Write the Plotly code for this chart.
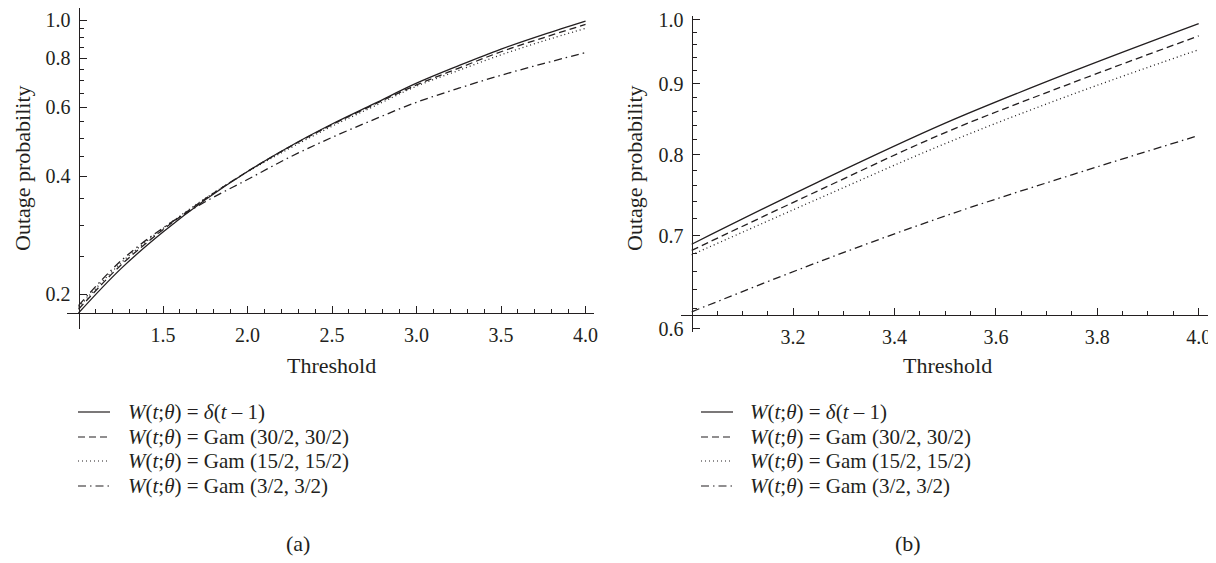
import math
import plotly.graph_objects as go

# ---------------- data ----------------
threshold = [1.0, 1.25, 1.5, 1.75, 2.0, 2.25, 2.5, 2.75, 3.0, 3.25, 3.5, 3.75, 4.0]
p_delta = [0.179, 0.232, 0.288, 0.348, 0.411, 0.476, 0.543, 0.612, 0.690, 0.765, 0.843, 0.918, 0.994]
p_gam30 = [0.183, 0.237, 0.292, 0.350, 0.411, 0.475, 0.541, 0.609, 0.683, 0.754, 0.830, 0.901, 0.974]
p_gam15 = [0.185, 0.240, 0.294, 0.351, 0.410, 0.471, 0.536, 0.603, 0.678, 0.744, 0.815, 0.884, 0.952]
p_gam3 = [0.187, 0.243, 0.295, 0.344, 0.392, 0.447, 0.502, 0.558, 0.617, 0.670, 0.723, 0.774, 0.826]

legend_labels = [
    "<i>W</i>(<i>t</i>;<i>θ</i>) = <i>δ</i>(<i>t</i> – 1)",
    "<i>W</i>(<i>t</i>;<i>θ</i>) = Gam (30/2, 30/2)",
    "<i>W</i>(<i>t</i>;<i>θ</i>) = Gam (15/2, 15/2)",
    "<i>W</i>(<i>t</i>;<i>θ</i>) = Gam (3/2, 3/2)",
]
left_xticks = [1.5, 2.0, 2.5, 3.0, 3.5, 4.0]
left_yticks = [0.2, 0.4, 0.6, 0.8, 1.0]
right_xticks = [3.2, 3.4, 3.6, 3.8, 4.0]
right_yticks = [0.6, 0.7, 0.8, 0.9, 1.0]
left_xminor = [1.1, 1.2, 1.3, 1.4, 1.6, 1.7, 1.8, 1.9, 2.1, 2.2, 2.3, 2.4, 2.6, 2.7, 2.8, 2.9,
               3.1, 3.2, 3.3, 3.4, 3.6, 3.7, 3.8, 3.9]
left_yminor = [0.25, 0.3, 0.35, 0.45, 0.5, 0.55, 0.65, 0.7, 0.75, 0.85, 0.9, 0.95]
right_xminor = [3.05, 3.1, 3.15, 3.25, 3.3, 3.35, 3.45, 3.5, 3.55, 3.65, 3.7, 3.75, 3.85, 3.9, 3.95]
right_yminor = [0.62, 0.64, 0.66, 0.68, 0.72, 0.74, 0.76, 0.78, 0.82, 0.84, 0.86, 0.88,
                0.92, 0.94, 0.96, 0.98]

# ---------------- styling ----------------
W, H = 1216, 563
OFF = 8  # page body margin offset
INK = "#231f20"
FONT = "Liberation Serif"
FS_TICK = 20
FS_TEXT = 22
FS_LEG = 21
dashes = ["solid", "7px,4px", "1px,3px", "8px,4px,1.5px,4px"]
series = [p_delta, p_gam30, p_gam15, p_gam3]


def px(x):
    return min(1.0, max(0.0, (x - OFF) / W))


def py(y):
    return min(1.0, max(0.0, (H - (y - OFF)) / H))


fig = go.Figure()
for vals, dash in zip(series, dashes):
    fig.add_trace(go.Scatter(x=threshold, y=vals, xaxis="x", yaxis="y", mode="lines",
                             line=dict(color=INK, width=1.3, dash=dash, shape="spline"),
                             showlegend=False, hoverinfo="skip"))
    xs = [t for t in threshold if t >= 3.0]
    ys = [v for t, v in zip(threshold, vals) if t >= 3.0]
    fig.add_trace(go.Scatter(x=xs, y=ys, xaxis="x2", yaxis="y2", mode="lines",
                             line=dict(color=INK, width=1.3, dash=dash, shape="spline"),
                             showlegend=False, hoverinfo="skip"))


def axis_common():
    return dict(showline=True, linecolor=INK, linewidth=1.2, ticks="inside", ticklen=7,
                tickwidth=1.2, tickcolor=INK, showgrid=False, zeroline=False, automargin=False,
                ticklabelstandoff=4,
                tickfont=dict(family=FONT, size=FS_TICK, color=INK), tickmode="array")


def minor(vals):
    return dict(tickvals=vals, ticks="inside", ticklen=4, tickwidth=1, tickcolor=INK)


xa = axis_common()
xa.update(domain=[px(67), px(594)], range=[0.932, 4.05], anchor="free", position=py(313),
          tickvals=left_xticks, ticktext=[f"{v:.1f}" for v in left_xticks], minor=minor(left_xminor))
ya = axis_common()
ya.update(domain=[py(329), py(8)], type="log", range=[math.log10(0.163), 0.0306],
          anchor="free", position=px(78.5),
          tickvals=left_yticks, ticktext=[f"{v:.1f}" for v in left_yticks], minor=minor(left_yminor))
xa2 = axis_common()
xa2.update(domain=[px(680.7), px(1210.5)], range=[2.9783, 4.0233], anchor="free", position=py(315),
           tickvals=right_xticks, ticktext=[f"{v:.1f}" for v in right_xticks], minor=minor(right_xminor))
ya2 = axis_common()
ya2.update(domain=[py(331.7), py(15.7)], type="log", range=[math.log10(0.597), math.log10(1.0071)],
           anchor="free", position=px(691.7),
           tickvals=right_yticks, ticktext=[f"{v:.1f}" for v in right_yticks], minor=minor(right_yminor))

annotations = []
shapes = []
tfont = dict(family=FONT, size=FS_TEXT, color=INK)
lfont = dict(family=FONT, size=FS_LEG, color=INK)
for cx in (22, 634):
    annotations.append(dict(text="Outage probability", x=px(cx), y=py(168), xref="paper", yref="paper",
                            textangle=-90, showarrow=False, font=tfont, xanchor="center", yanchor="middle"))
for cx in (331, 947):
    annotations.append(dict(text="Threshold", x=px(cx), y=py(366), xref="paper", yref="paper",
                            showarrow=False, font=tfont, xanchor="center", yanchor="middle"))
rows = [412, 437, 461, 486]
for (lx0, lx1, tx) in ((78, 110, 126), (701, 733, 748)):
    for r, lab, dash in zip(rows, legend_labels, dashes):
        shapes.append(dict(type="line", xref="paper", yref="paper", x0=px(lx0), x1=px(lx1),
                           y0=py(r), y1=py(r), line=dict(color=INK, width=1.2, dash=dash)))
        annotations.append(dict(text=lab, x=px(tx), y=py(r), xref="paper", yref="paper",
                                showarrow=False, font=lfont, xanchor="left", yanchor="middle"))
for cx, lab in ((298, "(a)"), (908, "(b)")):
    annotations.append(dict(text=lab, x=px(cx), y=py(543), xref="paper", yref="paper",
                            showarrow=False, font=tfont, xanchor="center", yanchor="middle"))

fig.update_layout(width=W, height=H, margin=dict(l=0, r=0, t=0, b=0, autoexpand=False),
                  paper_bgcolor="white", plot_bgcolor="white",
                  xaxis=xa, yaxis=ya, xaxis2=xa2, yaxis2=ya2,
                  annotations=annotations, shapes=shapes, showlegend=False)

fig.write_html("out.html")
